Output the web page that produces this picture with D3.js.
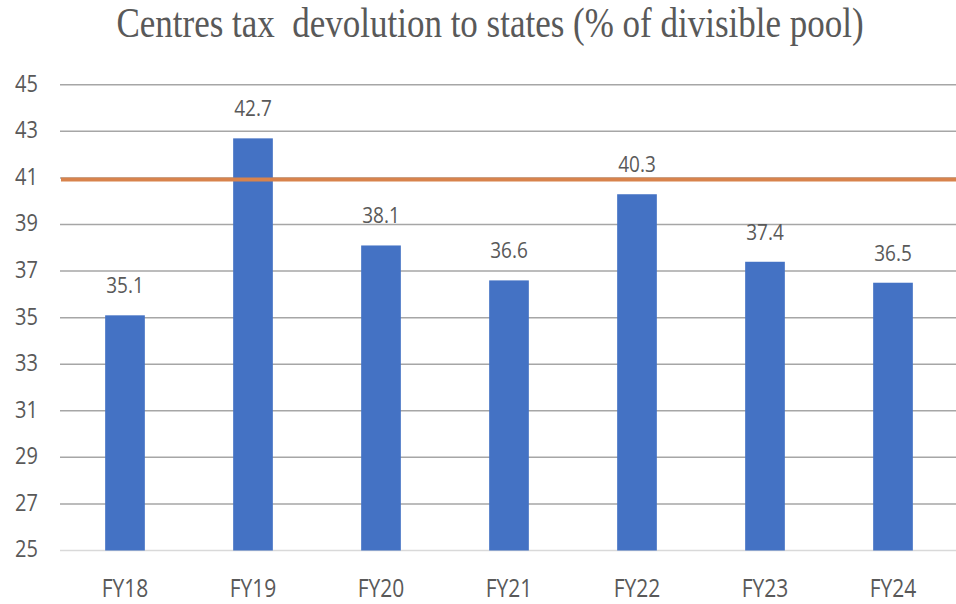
<!DOCTYPE html>
<html>
<head>
<meta charset="utf-8">
<script src="https://cdn.jsdelivr.net/npm/d3@7"></script>
<style>
  body { margin: 0; background: #fff; }
  text { fill: #595959; }
</style>
</head>
<body>
<div class="chart"></div>
<script>
// data
const years = ["FY18", "FY19", "FY20", "FY21", "FY22", "FY23", "FY24"];
const devolution = [35.1, 42.7, 38.1, 36.6, 40.3, 37.4, 36.5];
const yTicks = [25, 27, 29, 31, 33, 35, 37, 39, 41, 43, 45];
const recommended = 41;

const width = 956, height = 604;

const svg = d3.select(".chart")
  .append("svg")
    .attr("width", width)
    .attr("height", height);

// title
svg.append("text")
    .attr("x", 490)
    .attr("y", 37)
    .attr("text-anchor", "middle")
    .attr("xml:space", "preserve")
    .style("font-family", "'Liberation Serif', 'Times New Roman', serif")
    .style("font-size", "35px")
    .attr("transform", "translate(0,37) scale(1,1.2) translate(0,-37)")
    .text("Centres tax  devolution to states (% of divisible pool)");

let x = d3.scaleBand()
    .domain(years)
    .range([61, 957])
    .paddingInner(0.69)
    .paddingOuter(0.345);

let y = d3.scaleLinear()
    .domain([25, 45])
    .range([550.5, 84.8]);

// gridlines
svg.append("g")
  .selectAll("line")
  .data(yTicks)
  .enter()
  .append("line")
    .attr("x1", 60)
    .attr("x2", width)
    .attr("y1", d => y(d))
    .attr("y2", d => y(d))
    .style("stroke", d => d == 25 ? "#d9d9d9" : "#a6a6a6")
    .style("stroke-width", 1.5);

// y labels
svg.append("g")
  .selectAll("text")
  .data(yTicks)
  .enter()
  .append("text")
    .attr("x", 38)
    .attr("y", d => y(d) + 7)
    .attr("text-anchor", "end")
    .style("font-family", "'Open Sans', sans-serif")
    .style("font-size", "20px")
    .attr("transform", d => `translate(0,${y(d) + 7}) scale(1,1.15) translate(0,${-(y(d) + 7)})`)
    .text(d => d);

// bars
svg.selectAll(".bar")
  .data(years)
  .enter()
  .append("rect")
    .attr("class", "bar")
    .attr("x", d => x(d))
    .attr("y", (d, i) => y(devolution[i]))
    .attr("width", x.bandwidth())
    .attr("height", (d, i) => y(25) - y(devolution[i]))
    .style("fill", "#4472c4");

// value labels
svg.selectAll(".val")
  .data(years)
  .enter()
  .append("text")
    .attr("class", "val")
    .attr("x", d => x(d) + x.bandwidth() / 2)
    .attr("y", (d, i) => y(devolution[i]) - 22)
    .attr("text-anchor", "middle")
    .style("font-family", "'Open Sans', sans-serif")
    .style("font-size", "19px")
    .attr("transform", (d, i) => {
      let by = y(devolution[i]) - 22;
      return `translate(0,${by}) scale(1,1.15) translate(0,${-by})`;
    })
    .text((d, i) => devolution[i].toFixed(1));

// recommended share line
svg.append("line")
    .attr("x1", 61)
    .attr("x2", width)
    .attr("y1", y(recommended) + 1.5)
    .attr("y2", y(recommended) + 1.5)
    .style("stroke", "#d8834c")
    .style("stroke-width", 4);

// x labels
svg.append("g")
  .selectAll("text")
  .data(years)
  .enter()
  .append("text")
    .attr("x", d => x(d) + x.bandwidth() / 2)
    .attr("y", 597)
    .attr("text-anchor", "middle")
    .style("font-family", "'Open Sans', sans-serif")
    .style("font-size", "21px")
    .attr("transform", "translate(0,597) scale(1,1.2) translate(0,-597)")
    .text(d => d);
</script>
</body>
</html>
